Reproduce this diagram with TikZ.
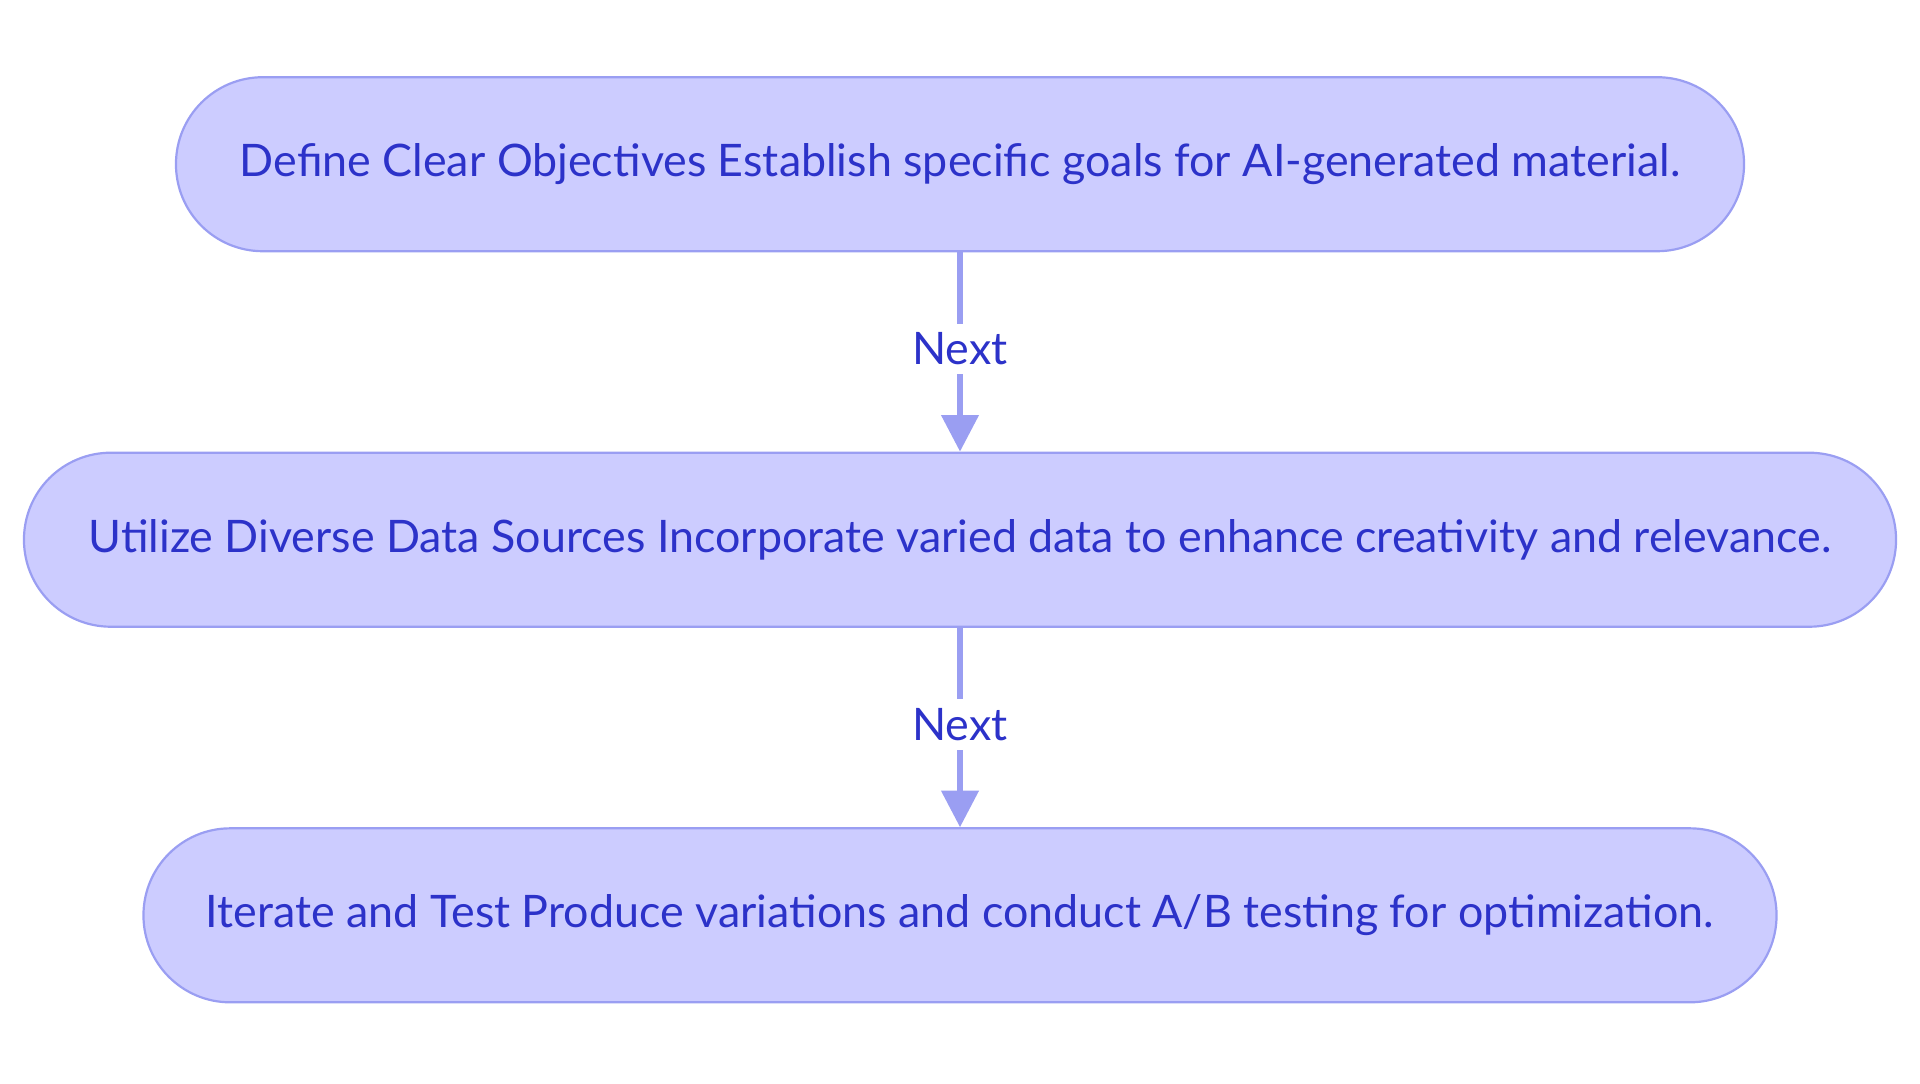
\documentclass[tikz,border=0pt]{standalone}
\usepackage{fontspec}
\setmainfont{Lato}
\usetikzlibrary{arrows.meta}
\definecolor{boxfill}{HTML}{CCCCFF}
\definecolor{boxline}{HTML}{9A9EF2}
\definecolor{txtcol}{HTML}{2C32C9}
\begin{document}
\begin{tikzpicture}[x=0.5bp,y=-0.5bp,
  stepbox/.style={draw=boxline, line width=1.1bp, fill=boxfill, rectangle,
    rounded corners=43.4bp, minimum height=87bp, inner sep=0pt,
    text=txtcol, font=\fontsize{22.4bp}{27bp}\selectfont},
  conn/.style={draw=boxline, line width=2.8bp, -{Triangle[width=18.3bp,length=18.3bp]}},
  lbl/.style={fill=white, text=txtcol, inner xsep=0pt, inner ysep=4.5bp, yshift=1.5bp,
    font=\fontsize{22.4bp}{27bp}\selectfont}]
\useasboundingbox (0,0) rectangle (1920,1083);
\node[stepbox, minimum width=784bp] (a) at (960,164.2) {Define Clear Objectives Establish specific goals for AI-generated material.};
\node[stepbox, minimum width=936bp] (b) at (960,539.7) {Utilize Diverse Data Sources Incorporate varied data to enhance creativity and relevance.};
\node[stepbox, minimum width=816.5bp] (c) at (960,915.3) {Iterate and Test Produce variations and conduct A/B testing for optimization.};
\draw[conn] (a) -- node[lbl] {Next} (b);
\draw[conn] (b) -- node[lbl] {Next} (c);
\end{tikzpicture}
\end{document}
